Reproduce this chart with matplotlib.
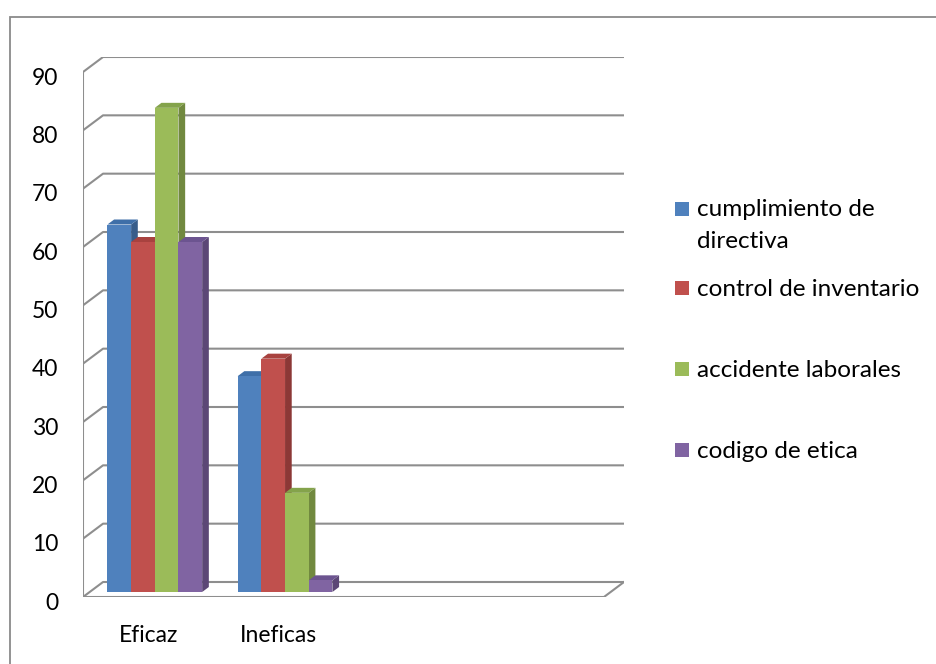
import matplotlib.pyplot as plt
from matplotlib.patches import Polygon, Rectangle
from matplotlib.transforms import ScaledTranslation

categorias = ["Eficaz", "Ineficas", "", ""]
series = ["cumplimiento de\ndirectiva", "control de inventario",
          "accidente laborales", "codigo de etica"]
valores = [
    [63, 37],   # cumplimiento de directiva
    [60, 40],   # control de inventario
    [83, 17],   # accidente laborales
    [60, 2],    # codigo de etica
]
yticks = [0, 10, 20, 30, 40, 50, 60, 70, 80, 90]

frente = ["#4F81BD", "#C0504D", "#9BBB59", "#8064A2"]
lado = ["#385D8A", "#8C3836", "#71893F", "#5C4776"]
arriba = ["#3F6FA8", "#A8423F", "#84A34B", "#6C5490"]

plt.rcParams['font.family'] = ['Lato', 'DejaVu Sans']

W, H = 937, 664
fig = plt.figure(figsize=(W / 100, H / 100), dpi=100)

# borde del area del grafico
fig.patches.append(Rectangle((10 / W, -0.1), 2, 1.1 - 17 / H, transform=fig.transFigure,
                             fill=False, edgecolor="#8a8a8a", lw=1.3))

ax = fig.add_axes([83 / W, 1 - 597 / H, (624 - 83) / W, (597 - 57) / H])
ncat = len(categorias)
dx = 20 / 130.0
dy = 15 / 5.833
ax.set_xlim(0, ncat + dx)
ax.set_ylim(0, yticks[-1] + dy)
for s in ax.spines.values():
    s.set_visible(False)

gris = "#8e8e8e"
# pared lateral y de fondo
ax.plot([0, 0], [0, yticks[-1]], color=gris, lw=1.5, zorder=1, solid_capstyle="butt")
for v in yticks:
    ax.plot([0, dx, ncat + dx], [v, v + dy, v + dy], color=gris, lw=1.5, zorder=1)
# piso
ax.plot([0, ncat, ncat + dx], [0, 0, dy], color=gris, lw=1.5, zorder=1)

# barras 3D
f = 1 / 3.0
bdx, bdy = dx * f, dy * f
n = len(series)
w = 1.0 / (n + 1.5)
gap = 0.75 * w
z = 2
for c in range(len(valores[0])):
    for j in range(n):
        v = valores[j][c]
        x0 = c + bdx + gap + j * w
        b = bdy
        side = [(x0 + w, b), (x0 + w + bdx, b + bdy), (x0 + w + bdx, b + bdy + v), (x0 + w, b + v)]
        top = [(x0, b + v), (x0 + bdx, b + v + bdy), (x0 + w + bdx, b + v + bdy), (x0 + w, b + v)]
        ax.add_patch(Polygon(side, closed=True, facecolor=lado[j], edgecolor="none", zorder=z))
        ax.add_patch(Polygon(top, closed=True, facecolor=arriba[j], edgecolor="none", zorder=z))
        ax.bar(x0, v, bottom=b, width=w, align="edge", color=frente[j], zorder=z + 0.5)
        z += 1

ax.set_yticks(yticks)
ax.set_yticklabels([str(t) for t in yticks])
ax.set_xticks([i + 0.5 for i in range(ncat)])
ax.set_xticklabels(categorias)
ax.tick_params(axis="y", length=0, pad=18, labelsize=16.5)
ax.tick_params(axis="x", length=0, pad=20, labelsize=16.5)
bajar = ScaledTranslation(0, -4 / 100, fig.dpi_scale_trans)
for lab in ax.get_yticklabels():
    lab.set_transform(lab.get_transform() + bajar)

# leyenda
ley_y = [210, 289, 370, 451]
for j in range(n):
    yy = ley_y[j]
    fig.patches.append(Rectangle((675 / W, 1 - (yy + 6) / H), 14 / W, 14 / H,
                                 transform=fig.transFigure, facecolor=frente[j], edgecolor="none"))
    for k, linea in enumerate(series[j].split("\n")):
        fig.text(697 / W, 1 - (yy + 32 * k) / H, linea, fontsize=17.5,
                 va="center", ha="left")

fig.savefig("out.png", dpi=100)
